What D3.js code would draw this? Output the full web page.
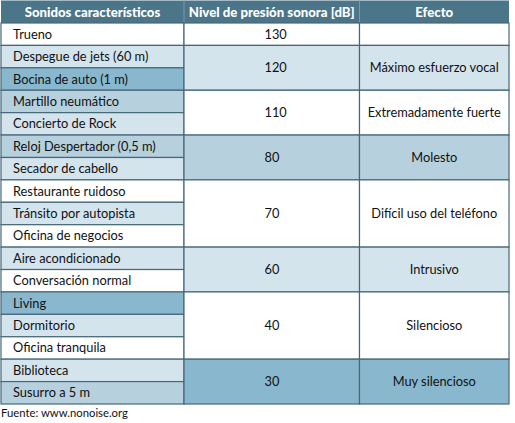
<!DOCTYPE html>
<html><head><meta charset="utf-8">
<script src="https://cdn.jsdelivr.net/npm/d3@7"></script>
<style>
html,body{margin:0;padding:0;background:#fff;}
svg{display:block;font-family:Lato, "Open Sans", sans-serif;}
</style></head>
<body>
<script>
const headers = ["Sonidos característicos", "Nivel de presión sonora [dB]", "Efecto"];
const sounds = ["Trueno","Despegue de jets (60 m)","Bocina de auto (1 m)","Martillo neumático","Concierto de Rock","Reloj Despertador (0,5 m)","Secador de cabello","Restaurante ruidoso","Tránsito por autopista","Oficina de negocios","Aire acondicionado","Conversación normal","Living","Dormitorio","Oficina tranquila","Biblioteca","Susurro a 5 m"];
const soundShade = [0,1,3,2,1,2,1,0,1,0,1,0,3,1,0,1,2];
const levels = [130,120,110,80,70,60,40,30];
const effects = ["","Máximo esfuerzo vocal","Extremadamente fuerte","Molesto","Difícil uso del teléfono","Intrusivo","Silencioso","Muy silencioso"];
const groupSizes = [1,2,2,2,3,2,3,2];
const groupShade = [0,1,0,2,0,1,0,3];
const source = "Fuente: www.nonoise.org";

const W = 515, H = 423;
const shades = ["#ffffff","#d4e4ed","#b6d0dd","#89b8ce"];
const border = "#46687a";
const headerBg = "#4b7588";

const svg = d3.select("body").append("svg").attr("width", W).attr("height", H);

const colEdges = [1, 184, 359.5, 509];
const x = d3.scaleOrdinal().domain([0,1,2]).range(colEdges.slice(0,3));
const wOf = i => colEdges[i+1]-colEdges[i];
const y = d3.scaleLinear().domain([0, sounds.length]).range([23, 404]);

// header
svg.append("rect").attr("x",colEdges[0]).attr("y",0.5).attr("width",colEdges[3]-colEdges[0]).attr("height",y(0)-0.5).attr("fill",headerBg);
headers.forEach((h,i)=>{
  svg.append("text").attr("x", x(i)+wOf(i)/2).attr("y", 16.5).attr("text-anchor","middle")
    .attr("fill","#fff").attr("font-weight","900").attr("font-size","13.2px").text(h);
  if(i>0) svg.append("line").attr("x1",x(i)).attr("x2",x(i)).attr("y1",0.5).attr("y2",y(0)).attr("stroke","#7a9aaa").attr("stroke-width",1);
});

// column 1 cells
const g1 = svg.append("g");
g1.selectAll("rect").data(sounds).join("rect")
  .attr("x", x(0)).attr("y",(d,i)=>y(i)).attr("width", wOf(0)).attr("height",(d,i)=>y(i+1)-y(i))
  .attr("fill",(d,i)=>shades[soundShade[i]]).attr("stroke",border).attr("stroke-width",1.2);
g1.selectAll("text").data(sounds).join("text")
  .attr("x", x(0)+12).attr("y",(d,i)=>(y(i)+y(i+1))/2+4.5)
  .attr("font-size","12.8px").attr("fill","#111").text(d=>d);

// groups
const starts = [];
groupSizes.reduce((acc,s)=>{starts.push(acc); return acc+s;},0);
const groups = levels.map((l,i)=>({level:l, effect:effects[i], start:starts[i], size:groupSizes[i], shade:groupShade[i]}));

[1,2].forEach(c=>{
  const g = svg.append("g");
  g.selectAll("rect").data(groups).join("rect")
    .attr("x", x(c)).attr("y", d=>y(d.start)).attr("width", wOf(c)).attr("height", d=>y(d.start+d.size)-y(d.start))
    .attr("fill", d=>shades[d.shade]).attr("stroke",border).attr("stroke-width",1.2);
  g.selectAll("text").data(groups).join("text")
    .attr("x", c===1 ? x(1)+80.5 : x(2)+wOf(2)/2)
    .attr("text-anchor", c===1 ? "start" : "middle")
    .attr("y", d=>(y(d.start)+y(d.start+d.size))/2+4.5)
    .attr("font-size","12.8px").attr("fill","#111")
    .text(d=> c===1 ? d.level : d.effect);
});

svg.append("text").attr("x",1).attr("y",417).attr("font-size","11.3px").attr("fill","#111").text(source);
</script>
</body></html>
